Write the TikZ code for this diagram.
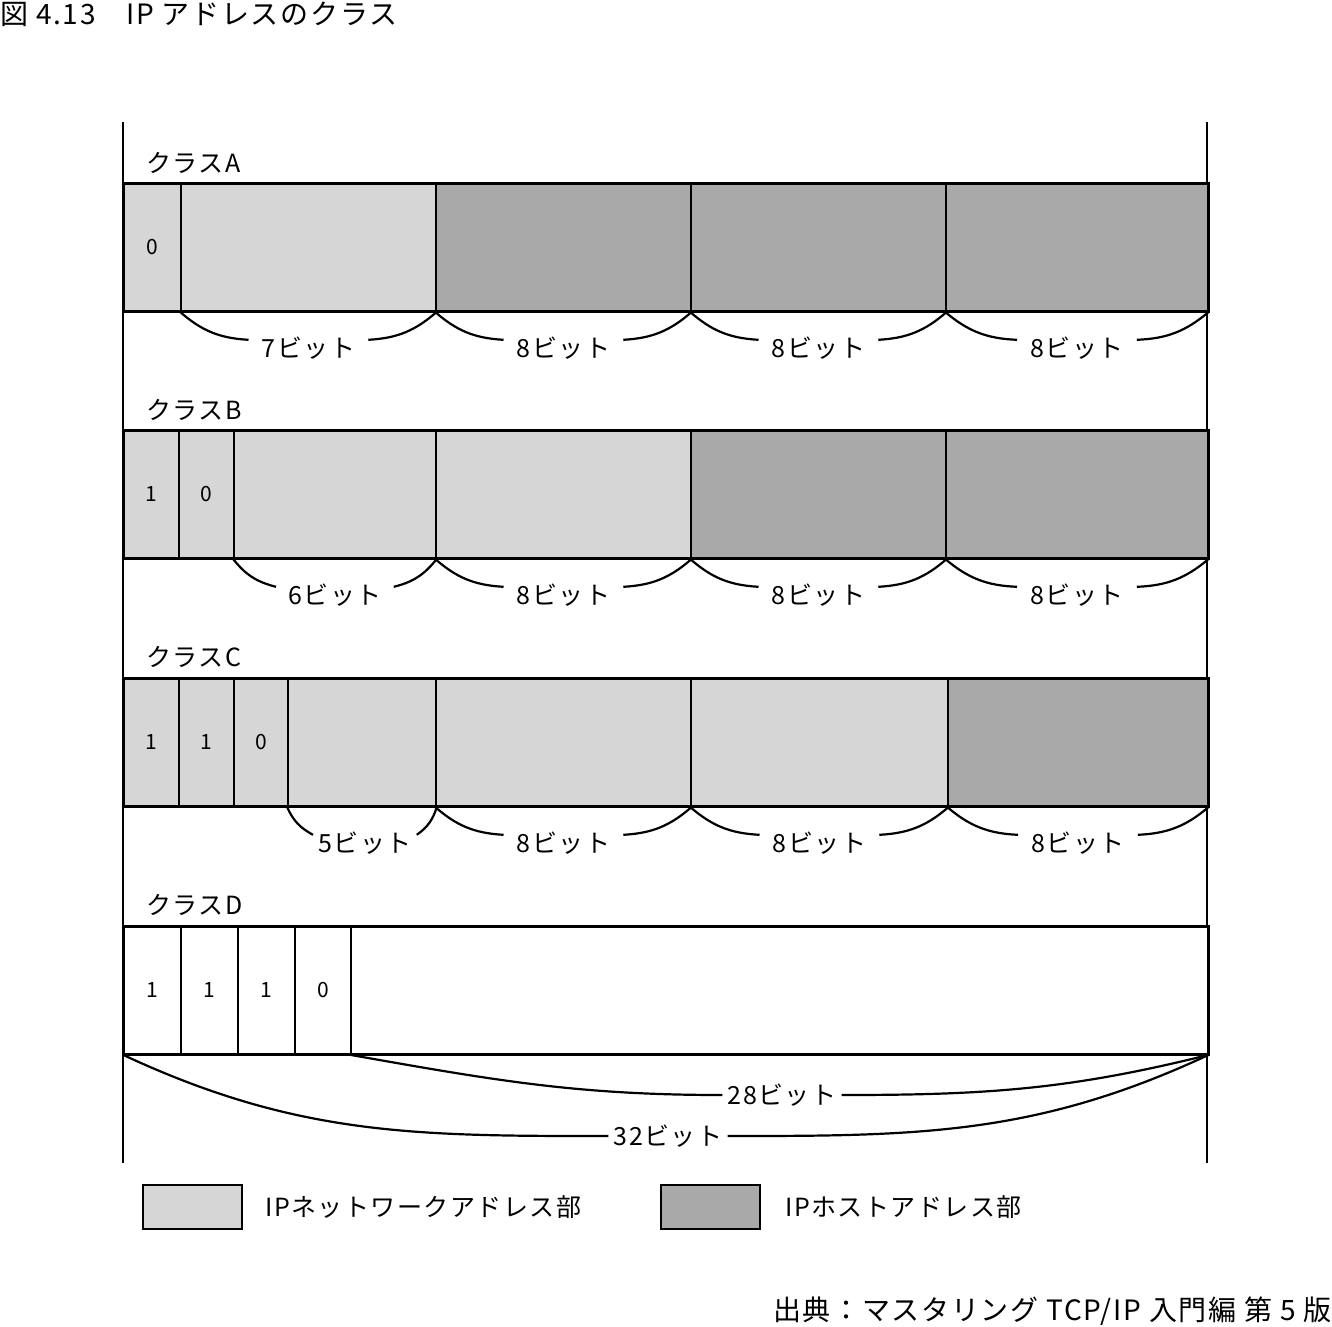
\documentclass[tikz,border=0pt]{standalone}
\usepackage{fontspec}
\setmainfont{Noto Sans CJK JP}[LetterSpace=6]
\usetikzlibrary{positioning,calc}
\definecolor{netgray}{HTML}{D6D6D6}
\definecolor{hostgray}{HTML}{A9A9A9}
\newcommand{\tagfont}{\fontsize{25}{25}\selectfont}
\newcommand{\cellfont}{\fontsize{21}{21}\selectfont}
\newcommand{\titlefont}{\fontsize{28}{28}\selectfont}

\tikzset{
  cell/.style={draw=black, line width=1.8pt, anchor=north west, inner sep=0pt,
    minimum height=127pt, font=\cellfont},
  outerbox/.style={draw=black, line width=3pt},
  guide/.style={draw=black, line width=1.1pt},
  brace/.style={draw=black, line width=2.2pt},
  classlabel/.style={anchor=base west, inner sep=0pt, font=\tagfont},
  bitlabel/.style={inner xsep=13pt, inner ysep=2pt, font=\tagfont},
  legbox/.style={draw=black, line width=2pt, anchor=north west,
    minimum width=99pt, minimum height=44pt, inner sep=0pt},
  legtext/.style={inner sep=0pt, font=\tagfont}
}

\begin{document}
\begin{tikzpicture}[x=1pt, y=-1pt]
  \useasboundingbox (0,0) rectangle (1332,1326);

  \node[anchor=base west, inner sep=0pt, font=\titlefont] (title) at (0,24)
    {図 4.13\hspace{1.1em}IP アドレスのクラス};

  \coordinate (gl top) at (123,122);
  \coordinate (gl bot) at (123,1163);
  \coordinate (gr top) at (1207,122);
  \coordinate (gr bot) at (1207,1163);
  \draw[guide] (gl top) -- (gl bot);
  \draw[guide] (gr top) -- (gr bot);

  % class A
  \node[classlabel] (cla) at (146,172) {クラスA};
  \foreach \n/\xa/\xb/\c/\t in {1/123/180/netgray/0, 2/180/435/netgray/{},
      3/435/690/hostgray/{}, 4/690/945/hostgray/{}, 5/945/1207/hostgray/{}}
    \node[cell, fill=\c, minimum width=\xb-\xa] (a\n) at (\xa,183) {\t};
  \draw[outerbox] (a1.north west) rectangle (a5.south east);
  \foreach \n/\t/\s/\g in {2/7/0/13, 3/8/0/13, 4/8/0/13, 5/8/0/13} {
    \node[bitlabel, inner xsep=\g] (la\n) at ($(a\n.south)+(\s,36)$) {\t ビット};
    \draw[brace] (a\n.south west) to[bend right=19] ($(la\n.west)+(0,-8)$);
    \draw[brace] ($(la\n.east)+(0,-8)$) to[bend right=19] (a\n.south east);
  }

  % class B
  \node[classlabel] (clb) at (146,419) {クラスB};
  \foreach \n/\xa/\xb/\c/\t in {1/123/178/netgray/1, 2/178/233/netgray/0,
      3/233/435/netgray/{}, 4/435/690/netgray/{}, 5/690/945/hostgray/{},
      6/945/1207/hostgray/{}}
    \node[cell, fill=\c, minimum width=\xb-\xa] (b\n) at (\xa,430) {\t};
  \draw[outerbox] (b1.north west) rectangle (b6.south east);
  \foreach \n/\t/\s/\g in {3/6/0/12, 4/8/0/13, 5/8/0/13, 6/8/0/13} {
    \node[bitlabel, inner xsep=\g] (lb\n) at ($(b\n.south)+(\s,36)$) {\t ビット};
    \draw[brace] (b\n.south west) to[bend right=19] ($(lb\n.west)+(0,-8)$);
    \draw[brace] ($(lb\n.east)+(0,-8)$) to[bend right=19] (b\n.south east);
  }

  % class C
  \node[classlabel] (clc) at (146,666) {クラスC};
  \foreach \n/\xa/\xb/\c/\t in {1/123/178/netgray/1, 2/178/233/netgray/1,
      3/233/287/netgray/0, 4/287/435/netgray/{}, 5/435/690/netgray/{},
      6/690/947/netgray/{}, 7/947/1207/hostgray/{}}
    \node[cell, fill=\c, minimum width=\xb-\xa] (c\n) at (\xa,678) {\t};
  \draw[outerbox] (c1.north west) rectangle (c7.south east);
  \foreach \n/\t/\s/\g in {4/5/3/5, 5/8/0/13, 6/8/0/13, 7/8/0/13} {
    \node[bitlabel, inner xsep=\g] (lc\n) at ($(c\n.south)+(\s,36)$) {\t ビット};
    \draw[brace] (c\n.south west) to[bend right=19] ($(lc\n.west)+(0,-8)$);
    \draw[brace] ($(lc\n.east)+(0,-8)$) to[bend right=19] (c\n.south east);
  }

  % class D
  \node[classlabel] (cld) at (146,914) {クラスD};
  \foreach \n/\xa/\xb/\t in {1/123/180/1, 2/180/237/1, 3/237/294/1,
      4/294/350/0, 5/350/1207/{}}
    \node[cell, fill=white, minimum width=\xb-\xa] (d\n) at (\xa,926) {\t};
  \draw[outerbox] (d1.north west) rectangle (d5.south east);
  \node[bitlabel, inner xsep=5pt] (ld28) at (782,1095) {28ビット};
  \node[bitlabel, inner xsep=5pt] (ld32) at (668,1136) {32ビット};
  \draw[brace] (d5.south west) to[out=-10,in=180] (ld28.west);
  \draw[brace] (ld28.east) to[out=0,in=-166] (d5.south east);
  \draw[brace] (d1.south west) to[out=-25,in=180] (ld32.west);
  \draw[brace] (ld32.east) to[out=0,in=-155] (d5.south east);

  % legend
  \node[legbox, fill=netgray] (legnet) at (142,1184) {};
  \node[legtext, right=22pt of legnet] (legnettext) {IPネットワークアドレス部};
  \node[legbox, fill=hostgray] (leghost) at (660,1184) {};
  \node[legtext, right=24pt of leghost] (leghosttext) {IPホストアドレス部};

  \node[anchor=base east, inner sep=0pt, font=\titlefont] (source) at (1332,1320)
    {出典：マスタリング TCP/IP 入門編 第 5 版};
\end{tikzpicture}
\end{document}
